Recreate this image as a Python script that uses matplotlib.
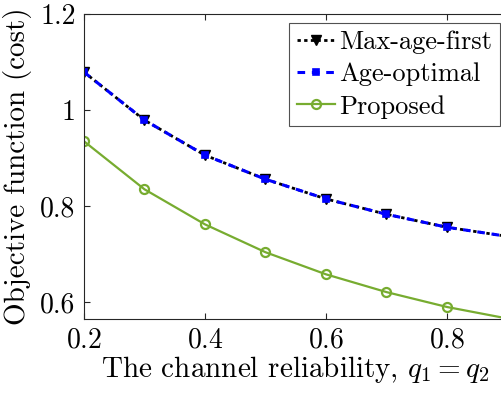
import numpy as np
import matplotlib
matplotlib.use('Agg')
import matplotlib.pyplot as plt

plt.rcParams['font.family'] = 'serif'
plt.rcParams['font.serif'] = ['cmr10']
plt.rcParams['mathtext.fontset'] = 'cm'
plt.rcParams['axes.formatter.use_mathtext'] = True

# data
q = [0.2, 0.3, 0.4, 0.5, 0.6, 0.7, 0.8, 0.9]
max_age_first = [1.079, 0.979, 0.906, 0.856, 0.815, 0.783, 0.756, 0.737]
age_optimal = [1.079, 0.979, 0.906, 0.856, 0.815, 0.783, 0.756, 0.737]
proposed = [0.935, 0.835, 0.762, 0.704, 0.658, 0.621, 0.590, 0.566]

green = '#77AC30'

fig = plt.figure(figsize=(5.02, 3.96), dpi=100)
ax = fig.add_axes([84/502, 77/396, (507.5-84)/502, (382-77)/396])

ax.plot(q, max_age_first, color='k', ls=(0, (1.2, 1.2)), marker='v',
        markersize=7, lw=2, label='Max-age-first')
ax.plot(q, age_optimal, color='b', ls=(0, (2.5, 2.2)), marker='s',
        markersize=5, lw=2.2, mew=1.2, markerfacecolor='b',
        markeredgecolor='b', label='Age-optimal')
ax.plot(q, proposed, '-', color=green, marker='o', markersize=6.5, lw=1.6,
        mew=1.6, markerfacecolor='none', label='Proposed')

ax.set_xlim(0.2, 0.9)
ax.set_ylim(0.565, 1.2)
ax.set_xticks([0.2, 0.4, 0.6, 0.8])
ax.set_yticks([0.6, 0.8, 1.0, 1.2])
ax.set_yticklabels(['0.6', '0.8', '1', '1.2'])
ax.tick_params(direction='in', top=True, right=True, labelsize=20, length=4,
               color='#262626', pad=6)
for s in ax.spines.values():
    s.set_color('#262626')

ax.set_xlabel('The channel reliability, $q_1 = q_2$', fontsize=21, labelpad=0)
ax.set_ylabel('Objective function (cost)', fontsize=21, labelpad=6)

leg = ax.legend(loc='upper right', bbox_to_anchor=((500-84)/423.5, 0.972),
                fontsize=19, handlelength=1.45, handletextpad=0.15,
                borderpad=0.3, labelspacing=0.32, fancybox=False,
                edgecolor='#262626', borderaxespad=0.0)
leg.get_frame().set_linewidth(0.8)

fig.savefig('out.png', dpi=100)
